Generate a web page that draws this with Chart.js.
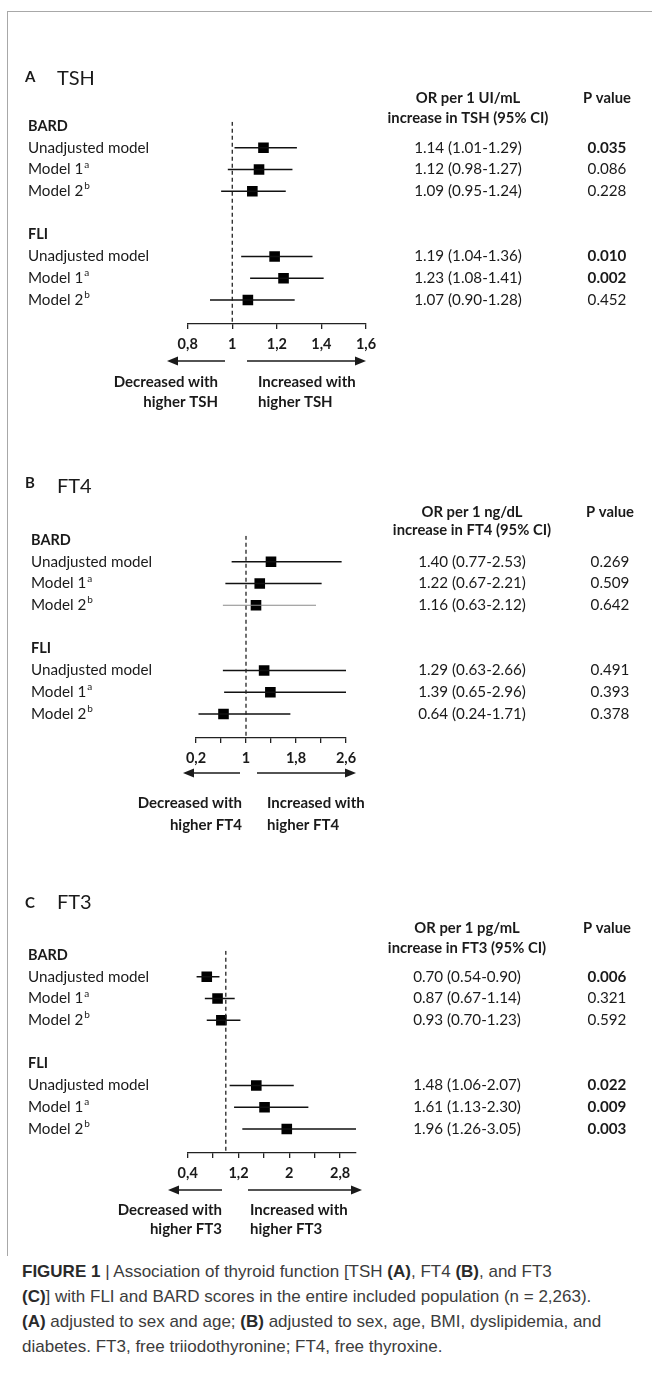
<!DOCTYPE html>
<html>
<head>
<meta charset="utf-8">
<script src="https://cdn.jsdelivr.net/npm/chart.js@4.4.0/dist/chart.umd.min.js"></script>
<style>
  body { margin: 0; background: #fff; }
  #page { position: relative; width: 652px; height: 1384px; overflow: hidden; background: #fff; }
  .frame-top { position: absolute; left: 7px; top: 11px; right: 0; border-top: 1.5px solid #a8a8a8; }
  .frame-left { position: absolute; left: 7px; top: 11px; height: 1245px; border-left: 1.5px solid #a8a8a8; }
  canvas { position: absolute; left: 0; }
  #caption { position: absolute; left: 22px; top: 1259px; white-space: nowrap;
    font-family: "Liberation Sans", Arial, sans-serif; font-size: 17px; line-height: 25px; color: #3c3c3c; }
  #caption b { color: #2a2a2a; }
</style>
</head>
<body>
<div id="page">
  <div class="frame-top"></div>
  <div class="frame-left"></div>
  <canvas id="tshChart"></canvas>
  <canvas id="ft4Chart"></canvas>
  <canvas id="ft3Chart"></canvas>
  <div id="caption">
    <b>FIGURE 1</b> | Association of thyroid function [TSH <b>(A)</b>, FT4 <b>(B)</b>, and FT3<br>
    <b>(C)</b>] with FLI and BARD scores in the entire included population (n = 2,263).<br>
    <b>(A)</b> adjusted to sex and age; <b>(B)</b> adjusted to sex, age, BMI, dyslipidemia, and<br>
    diabetes. FT3, free triiodothyronine; FT4, free thyroxine.
  </div>
</div>
<script>
const groupNames = ['BARD', 'FLI'];
const modelNames = ['Unadjusted model', 'Model 1', 'Model 2'];
const modelMarks = ['', 'a', 'b'];

// A  TSH  (BARD x3, then FLI x3)
const tshOR   = [1.14, 1.12, 1.09, 1.19, 1.23, 1.07];
const tshLow  = [1.01, 0.98, 0.95, 1.04, 1.08, 0.90];
const tshHigh = [1.29, 1.27, 1.24, 1.36, 1.41, 1.28];
const tshP    = ['0.035', '0.086', '0.228', '0.010', '0.002', '0.452'];
const tshTicks = [0.8, 1, 1.2, 1.4, 1.6];
const tshTickLabels = ['0,8', '1', '1,2', '1,4', '1,6'];

// B  FT4
const ft4OR   = [1.40, 1.22, 1.16, 1.29, 1.39, 0.64];
const ft4Low  = [0.77, 0.67, 0.63, 0.63, 0.65, 0.24];
const ft4High = [2.53, 2.21, 2.12, 2.66, 2.96, 1.71];
const ft4P    = ['0.269', '0.509', '0.642', '0.491', '0.393', '0.378'];
const ft4Ticks = [0.2, 0.6, 1, 1.4, 1.8, 2.2, 2.6];
const ft4TickLabels = ['0,2', '', '1', '', '1,8', '', '2,6'];

// C  FT3
const ft3OR   = [0.70, 0.87, 0.93, 1.48, 1.61, 1.96];
const ft3Low  = [0.54, 0.67, 0.70, 1.06, 1.13, 1.26];
const ft3High = [0.90, 1.14, 1.23, 2.07, 2.30, 3.05];
const ft3P    = ['0.006', '0.321', '0.592', '0.022', '0.009', '0.003'];
const ft3Ticks = [0.4, 0.8, 1.2, 1.6, 2, 2.4, 2.8];
const ft3TickLabels = ['0,4', '', '1,2', '', '2', '', '2,8'];

const ROW = 21.75, Y_MIN = -0.2, Y_MAX = 9.1;
const rowOf = i => (i < 3 ? i + 1 : i + 3);
const groupRows = [0, 5];
const FONT = 'Lato, "Open Sans", sans-serif';
const INK = '#1a1a1a';

const panels = [
  { id: 'tshChart', letter: 'A', name: 'TSH', head1: 'OR per 1 UI/mL', head2: 'increase in TSH (95% CI)', hormone: 'TSH',
    or: tshOR, lo: tshLow, hi: tshHigh, p: tshP, ticks: tshTicks, tickLabels: tshTickLabels,
    xMin: 0.8, xMax: 1.6, left: 187.7, right: 366, top: 40, height: 380, rowTop: 126,
    titleY: [82, 85], headY: [98, 118], labelX: 28, orX: 468, pX: 607,
    arrowY: 361, arrowL: [225, 167], arrowR: [247, 366], textR: 218, textL: 258, textY: [382, 402], light: [] },
  { id: 'ft4Chart', letter: 'B', name: 'FT4', head1: 'OR per 1 ng/dL', head2: 'increase in FT4 (95% CI)', hormone: 'FT4',
    or: ft4OR, lo: ft4Low, hi: ft4High, p: ft4P, ticks: ft4Ticks, tickLabels: ft4TickLabels,
    xMin: 0.2, xMax: 2.6, left: 196, right: 346, top: 455, height: 385, rowTop: 540,
    titleY: [488, 493], headY: [512, 530], labelX: 31, orX: 472, pX: 610,
    arrowY: 773, arrowL: [240, 183], arrowR: [257, 356], textR: 242, textL: 267, textY: [803, 825], light: [2] },
  { id: 'ft3Chart', letter: 'C', name: 'FT3', head1: 'OR per 1 pg/mL', head2: 'increase in FT3 (95% CI)', hormone: 'FT3',
    or: ft3OR, lo: ft3Low, hi: ft3High, p: ft3P, ticks: ft3Ticks, tickLabels: ft3TickLabels,
    xMin: 0.4, xMax: 3.05, left: 187.7, right: 356, top: 870, height: 380, rowTop: 955,
    titleY: [908, 909], headY: [928, 948], labelX: 28, orX: 467, pX: 607,
    arrowY: 1190, arrowL: [222, 168], arrowR: [248, 362], textR: 222, textL: 250, textY: [1210, 1229], light: [] }
];

function arrow(ctx, x1, x2, y) {
  const dir = Math.sign(x2 - x1);
  ctx.beginPath();
  ctx.moveTo(x1, y);
  ctx.lineTo(x2 - dir * 8, y);
  ctx.stroke();
  ctx.beginPath();
  ctx.moveTo(x2, y);
  ctx.lineTo(x2 - dir * 11, y - 4.5);
  ctx.lineTo(x2 - dir * 11, y + 4.5);
  ctx.closePath();
  ctx.fill();
}

function textPlugin(p) {
  return {
    id: 'figureText',
    afterDraw(chart) {
      const ctx = chart.ctx;
      const ys = chart.scales.y;
      const off = p.top;
      ctx.save();
      ctx.fillStyle = INK;
      ctx.strokeStyle = INK;
      ctx.textBaseline = 'alphabetic';

      // panel title
      ctx.textAlign = 'left';
      ctx.font = `bold 15px ${FONT}`;
      ctx.fillText(p.letter, 25, p.titleY[0] - off);
      ctx.font = `20px ${FONT}`;
      ctx.fillText(p.name, 57, p.titleY[1] - off);

      // column headers
      ctx.textBaseline = 'middle';
      ctx.textAlign = 'center';
      ctx.font = `bold 14.8px ${FONT}`;
      ctx.fillText(p.head1, p.orX, p.headY[0] - off);
      ctx.fillText(p.head2, p.orX, p.headY[1] - off);
      ctx.fillText('P value', p.pX, p.headY[0] - off);

      // group headers
      ctx.textAlign = 'left';
      groupNames.forEach((g, k) => {
        ctx.font = `bold 14.5px ${FONT}`;
        ctx.fillText(g, p.labelX, ys.getPixelForValue(groupRows[k]));
      });

      // rows
      p.or.forEach((v, i) => {
        const y = ys.getPixelForValue(rowOf(i));
        const m = i % 3;
        ctx.textAlign = 'left';
        ctx.font = `15.2px ${FONT}`;
        ctx.fillText(modelNames[m], p.labelX, y);
        if (modelMarks[m]) {
          const w = ctx.measureText(modelNames[m]).width;
          ctx.font = `10px ${FONT}`;
          ctx.fillText(modelMarks[m], p.labelX + w + 1, y - 5);
        }
        ctx.textAlign = 'center';
        ctx.font = `15.2px ${FONT}`;
        ctx.fillText(`${v.toFixed(2)} (${p.lo[i].toFixed(2)}-${p.hi[i].toFixed(2)})`, p.orX, y);
        ctx.font = (parseFloat(p.p[i]) < 0.05 ? 'bold ' : '') + `15.2px ${FONT}`;
        ctx.fillText(p.p[i], p.pX, y);
      });

      // direction arrows + text
      ctx.lineWidth = 1.5;
      arrow(ctx, p.arrowL[0], p.arrowL[1], p.arrowY - off);
      arrow(ctx, p.arrowR[0], p.arrowR[1], p.arrowY - off);
      ctx.font = `bold 15px ${FONT}`;
      ctx.textAlign = 'right';
      ctx.fillText('Decreased with', p.textR, p.textY[0] - off);
      ctx.fillText('higher ' + p.hormone, p.textR, p.textY[1] - off);
      ctx.textAlign = 'left';
      ctx.fillText('Increased with', p.textL, p.textY[0] - off);
      ctx.fillText('higher ' + p.hormone, p.textL, p.textY[1] - off);
      ctx.restore();
    }
  };
}

panels.forEach(p => {
  const canvas = document.getElementById(p.id);
  canvas.width = 652;
  canvas.height = p.height;
  canvas.style.top = p.top + 'px';

  const chartTop = p.rowTop + Y_MIN * ROW;
  const chartBottom = p.rowTop + Y_MAX * ROW;
  const axisH = p.top + p.height - chartBottom;

  const ciSets = p.or.map((v, i) => ({
    type: 'scatter',
    showLine: true,
    data: [{ x: p.lo[i], y: rowOf(i) }, { x: p.hi[i], y: rowOf(i) }],
    borderColor: p.light.includes(i) ? '#8a8a8a' : '#111',
    borderWidth: p.light.includes(i) ? 1 : 1.5,
    pointRadius: 0
  }));

  new Chart(canvas, {
    type: 'scatter',
    data: {
      datasets: [
        {
          showLine: true,
          data: [{ x: 1, y: Y_MIN }, { x: 1, y: Y_MAX }],
          borderColor: '#222',
          borderWidth: 1.3,
          borderDash: [4, 3],
          pointRadius: 0
        },
        ...ciSets,
        {
          data: p.or.map((v, i) => ({ x: v, y: rowOf(i) })),
          pointStyle: 'rect',
          pointRadius: 7.5,
          backgroundColor: '#000',
          borderWidth: 0
        }
      ]
    },
    options: {
      responsive: false,
      animation: false,
      events: [],
      layout: { padding: { left: p.left, right: 652 - p.right, top: chartTop - p.top, bottom: 0 } },
      plugins: { legend: { display: false }, tooltip: { enabled: false } },
      scales: {
        x: {
          type: 'linear',
          min: p.xMin,
          max: p.xMax,
          afterBuildTicks: s => { s.ticks = p.ticks.map(v => ({ value: v })); },
          afterFit: s => { s.height = axisH; },
          ticks: {
            autoSkip: false,
            maxRotation: 0,
            padding: 7,
            color: INK,
            font: { family: FONT, weight: 'bold', size: 14.5 },
            callback: (v, i) => p.tickLabels[i]
          },
          grid: { drawOnChartArea: false, drawTicks: true, tickLength: 5, color: '#222', lineWidth: 1.3 },
          border: { color: '#222', width: 1.3 }
        },
        y: { type: 'linear', reverse: true, min: Y_MIN, max: Y_MAX, display: false }
      }
    },
    plugins: [textPlugin(p)]
  });
});
</script>
</body>
</html>
